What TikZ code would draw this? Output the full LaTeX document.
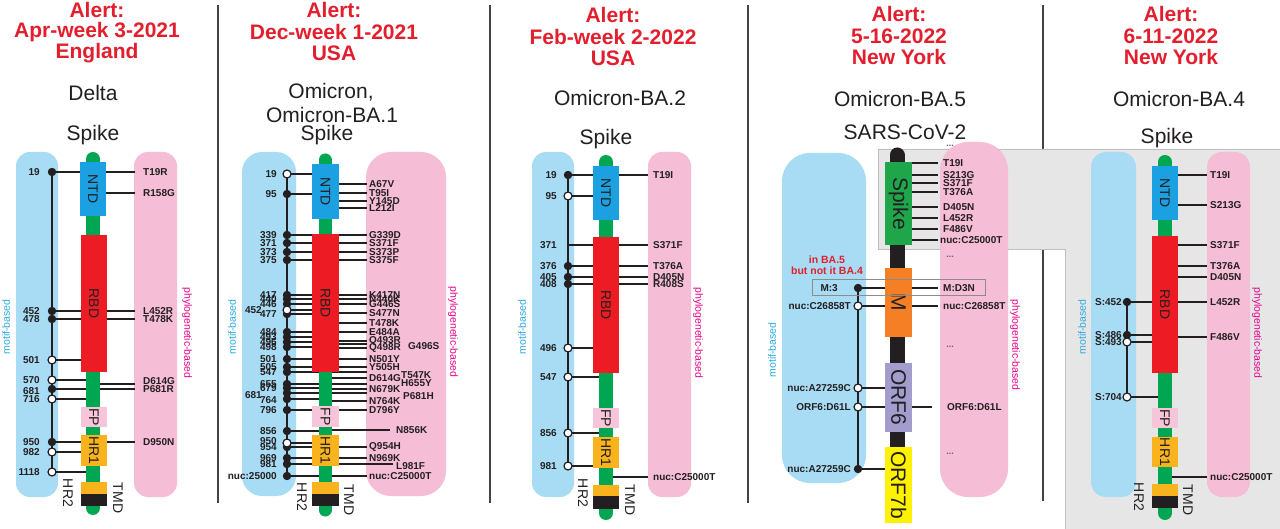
\documentclass[tikz,border=0pt]{standalone}
\usepackage{fontspec}
\setmainfont{Liberation Sans}
\definecolor{ink}{HTML}{231F20}
\definecolor{capblue}{HTML}{A8DCF5}
\definecolor{cappink}{HTML}{F6BED6}
\definecolor{bbgreen}{HTML}{00A651}
\definecolor{ntdc}{HTML}{1BA1E2}
\definecolor{rbdc}{HTML}{ED1C24}
\definecolor{fpc}{HTML}{F6C5D9}
\definecolor{hrc}{HTML}{F9B31C}
\definecolor{alertred}{HTML}{E31E2D}
\definecolor{motifc}{HTML}{29ABE2}
\definecolor{phyloc}{HTML}{EC008C}
\definecolor{mc}{HTML}{F47F24}
\definecolor{orfsix}{HTML}{A39DCD}
\definecolor{orfseven}{HTML}{FFF200}
\definecolor{spikec}{HTML}{1FA64B}
\definecolor{grayband}{HTML}{E6E6E6}
\pgfdeclarelayer{div}
\pgfdeclarelayer{gray}
\pgfdeclarelayer{cap}
\pgfdeclarelayer{lines}
\pgfdeclarelayer{bone}
\pgfsetlayers{div,gray,cap,lines,bone,main}
\def\labsize{10}
\tikzset{
 conn/.style={draw=ink, line width=1.3},
 vline/.style={draw=ink, line width=1.5},
 dotf/.style={circle, fill=ink, draw=ink, line width=0.8, inner sep=0, minimum size=7.5},
 doto/.style={circle, fill=white, draw=ink, line width=1.2, inner sep=0, minimum size=8},
 nodot/.style={coordinate},
 num/.style={inner sep=0, text=ink, font=\bfseries\fontsize{\labsize}{\labsize}\selectfont},
 mut/.style={inner sep=0, text=ink, font=\bfseries\fontsize{\labsize}{\labsize}\selectfont},
 dom/.style={rotate=-90, inner sep=0, text=ink, font=\fontsize{14}{14}\selectfont},
 bigdom/.style={rotate=-90, inner sep=0, text=ink, font=\fontsize{21}{21}\selectfont},
 hdr/.style={text=alertred, font=\bfseries\fontsize{21}{21}\selectfont, inner sep=0},
 sub/.style={text=ink, font=\fontsize{21}{21}\selectfont, inner sep=0},
 motif/.style={rotate=90, text=motifc, font=\fontsize{10.5}{10.5}\selectfont, inner sep=0},
 phylo/.style={rotate=-90, text=phyloc, font=\fontsize{10.5}{10.5}\selectfont, inner sep=0},
 redtxt/.style={text=alertred, font=\bfseries\fontsize{10.5}{10.5}\selectfont, inner sep=0},
 dotsl/.style={text=ink!70, font=\bfseries\fontsize{9}{9}\selectfont, inner sep=0},
 bonestyle/.style={line width=14, line cap=round},
 divider/.style={draw=ink!85, line width=1.5},
}
% left mutation: name, y, label, dot style
\newcommand\leftmut[4]{%
 \coordinate (#1b) at (\BX,#2);
 \node[#4] (#1d) at (\VX,#2) {};
 \begin{pgfonlayer}{lines}\draw[conn] (#1d.center) -- (#1b);\end{pgfonlayer}
 \node[num, anchor=east] (#1l) at (\LX,#2) {#3};}
% left mutation with label position: name, y, label, style, lx, ly
\newcommand\leftmutat[6]{%
 \coordinate (#1b) at (\BX,#2);
 \node[#4] (#1d) at (\VX,#2) {};
 \begin{pgfonlayer}{lines}\draw[conn] (#1d.center) -- (#1b);\end{pgfonlayer}
 \node[num, anchor=east] (#1l) at (#5,#6) {#3};}
% right mutation: name, y, text
\newcommand\rightmut[3]{%
 \coordinate (#1b) at (\BX,#2);
 \coordinate (#1e) at (\RX,#2);
 \node[mut, anchor=west] (#1l) at (\TX,#2) {#3};
 \begin{pgfonlayer}{lines}\draw[conn] (#1b) -- (#1e);\end{pgfonlayer}}
% right mutation custom: name, y, line end x, text x, text y, text
\newcommand\rightmutat[6]{%
 \coordinate (#1b) at (\BX,#2);
 \coordinate (#1e) at (#3,#2);
 \node[mut, anchor=west] (#1l) at (#4,#5) {#6};
 \begin{pgfonlayer}{lines}\draw[conn] (#1b) -- (#1e);\end{pgfonlayer}}
\begin{document}
\begin{tikzpicture}[x=1pt,y=-1pt]
\useasboundingbox (0,0) rectangle (1280,529);
% dividers
\begin{pgfonlayer}{div}
\fill[white] (0,0) rectangle (1280,529);
\draw[divider] (218,5) -- (218,503);
\draw[divider] (490,5) -- (490,503);
\draw[divider] (748,5) -- (748,503);
\draw[divider] (1043,5) -- (1043,501);
\end{pgfonlayer}
\begin{pgfonlayer}{gray}
\filldraw[fill=grayband, draw=black!25, line width=0.8] (878,149) -- (1280,149) -- (1280,529) -- (1065,529) -- (1065,249) -- (878,249) -- cycle;
\end{pgfonlayer}

%%%%%%%%%%%%%%%% Panel 1
\node[hdr] (h1a) at (97,10) {Alert:};
\node[hdr] (h1b) at (97,32) {Apr-week 3-2021};
\node[hdr] (h1c) at (97,53) {England};
\node[sub] (h1d) at (93,93) {Delta};
\node[sub] (h1e) at (93,135) {Spike};
\begin{pgfonlayer}{cap}
\fill[capblue, rounded corners=14] (16,152) rectangle (58,497);
\fill[cappink, rounded corners=14] (134,152) rectangle (177,497);
\end{pgfonlayer}
\begin{pgfonlayer}{bone}
\draw[bonestyle, bbgreen] (93,159) -- (93,508);
\end{pgfonlayer}
\node[dom, fill=ntdc, minimum width=54, minimum height=26] (antd) at (93,189) {NTD};
\node[dom, fill=rbdc, minimum width=137, minimum height=26] (arbd) at (94,303.5) {RBD};
\node[dom, fill=fpc, minimum width=20, minimum height=26] (afp) at (94,417) {FP};
\node[dom, fill=hrc, minimum width=31, minimum height=26] (ahr1) at (94,450.5) {HR1};
\node[dom, fill=hrc, minimum width=12, minimum height=26] (ahr2) at (94,488) {};
\node[dom, fill=ink, minimum width=12, minimum height=26] (atmd) at (94,500) {};
\node[dom] (ahr2l) at (68,493) {HR2};
\node[dom] (atmdl) at (118,498) {TMD};
\node[motif] (amot) at (6,327) {motif-based};
\node[phylo] (aphy) at (187,333) {phylogenetic-based};
\def\VX{52}\def\BX{93}\def\LX{40}\def\RX{135}\def\TX{143}
\leftmut{a19}{172}{19}{dotf}
\leftmut{a452}{311}{452}{dotf}
\leftmut{a478}{319}{478}{dotf}
\leftmut{a501}{360}{501}{doto}
\leftmut{a570}{380}{570}{doto}
\leftmutat{a681}{389}{681}{dotf}{40}{391}
\leftmut{a716}{399}{716}{doto}
\leftmut{a950}{442}{950}{dotf}
\leftmut{a982}{452}{982}{doto}
\leftmut{a1118}{472}{1118}{doto}
\begin{pgfonlayer}{lines}\draw[vline] (a19d.center) -- (a1118d.center);\end{pgfonlayer}
\rightmut{aT19R}{172}{T19R}
\rightmut{aR158G}{193}{R158G}
\rightmut{aL452R}{311}{L452R}
\rightmut{aT478K}{319}{T478K}
\rightmutat{aD614G}{384}{135}{143}{381}{D614G}
\rightmut{aP681R}{389}{P681R}
\rightmut{aD950N}{442}{D950N}

%%%%%%%%%%%%%%%% Panel 2
\node[hdr] (h2a) at (334,10) {Alert:};
\node[hdr] (h2b) at (334,32) {Dec-week 1-2021};
\node[hdr] (h2c) at (334,53) {USA};
\node[sub] (h2d) at (331,92) {Omicron,};
\node[sub] (h2e) at (332,115) {Omicron-BA.1};
\node[sub] (h2f) at (327,135) {Spike};
\begin{pgfonlayer}{cap}
\fill[capblue, rounded corners=20] (242,152) rectangle (296,496);
\fill[cappink, rounded corners=25] (366,152) rectangle (446,496);
\end{pgfonlayer}
\begin{pgfonlayer}{bone}
\draw[bonestyle, bbgreen, line width=13] (325,160) -- (325,510);
\end{pgfonlayer}
\node[dom, fill=ntdc, minimum width=55, minimum height=27] (bntd) at (325.5,191.5) {NTD};
\node[dom, fill=rbdc, minimum width=138, minimum height=27] (brbd) at (325.5,303) {RBD};
\node[dom, fill=fpc, minimum width=21, minimum height=27] (bfp) at (325.5,416.5) {FP};
\node[dom, fill=hrc, minimum width=31, minimum height=27] (bhr1) at (325.5,450.5) {HR1};
\node[dom, fill=hrc, minimum width=12, minimum height=27] (bhr2) at (325.5,488) {};
\node[dom, fill=ink, minimum width=12, minimum height=27] (btmd) at (325.5,500) {};
\node[dom] (bhr2l) at (302,497) {HR2};
\node[dom] (btmdl) at (349,500) {TMD};
\node[motif] (bmot) at (232,327) {motif-based};
\node[phylo] (bphy) at (453,332) {phylogenetic-based};
\def\VX{287}\def\BX{325}\def\LX{277}\def\RX{367}\def\TX{369}
\leftmut{b19}{174}{19}{doto}
\leftmut{b95}{194}{95}{dotf}
\leftmut{b339}{235}{339}{dotf}
\leftmut{b371}{243}{371}{dotf}
\leftmut{b373}{252}{373}{dotf}
\leftmut{b375}{260}{375}{dotf}
\leftmut{b417}{295}{417}{dotf}
\leftmut{b440}{299}{440}{dotf}
\leftmut{b446}{304}{446}{dotf}
\leftmut{b477}{314}{477}{dotf}
\leftmutat{b452}{310}{452}{doto}{262}{310}
\leftmut{b484}{332}{484}{dotf}
\leftmut{b493}{337}{493}{dotf}
\leftmut{b496}{342}{496}{dotf}
\leftmut{b498}{347}{498}{dotf}
\leftmut{b501}{359}{501}{dotf}
\leftmut{b505}{367}{505}{dotf}
\leftmut{b547}{372}{547}{dotf}
\leftmut{b655}{384}{655}{dotf}
\leftmut{b679}{388}{679}{dotf}
\leftmutat{b681}{393}{681}{dotf}{262}{395}
\leftmutat{b764}{399}{764}{dotf}{277}{400}
\leftmut{b796}{410}{796}{dotf}
\leftmut{b856}{431}{856}{dotf}
\leftmut{b954}{447}{954}{dotf}
\leftmutat{b950}{443}{950}{doto}{277}{441}
\leftmut{b969}{458}{969}{dotf}
\leftmut{b981}{464}{981}{dotf}
\leftmut{bnuc}{476}{nuc:25000}{dotf}
\begin{pgfonlayer}{lines}\draw[vline] (b19d.center) -- (bnucd.center);\end{pgfonlayer}
\rightmut{bA67V}{184}{A67V}
\rightmut{bT95I}{193}{T95I}
\rightmut{bY145D}{201}{Y145D}
\rightmut{bL212I}{208}{L212I}
\rightmut{bG339D}{235}{G339D}
\rightmut{bS371F}{243}{S371F}
\rightmut{bS373P}{252}{S373P}
\rightmut{bS375F}{260}{S375F}
\rightmut{bK417N}{295}{K417N}
\rightmut{bN440K}{299}{N440K}
\rightmut{bG446S}{304}{G446S}
\rightmut{bS477N}{313}{S477N}
\rightmut{bT478K}{323}{T478K}
\rightmut{bE484A}{332}{E484A}
\rightmut{bQ493R}{341}{Q493R}
\rightmutat{bG496S}{344}{367}{408}{346}{G496S}
\rightmut{bQ498R}{348}{Q498R}
\rightmut{bN501Y}{359}{N501Y}
\rightmut{bY505H}{367}{Y505H}
\rightmutat{bT547K}{372}{367}{401}{375}{T547K}
\rightmut{bD614G}{378}{D614G}
\rightmutat{bH655Y}{384}{367}{401}{383}{H655Y}
\rightmut{bN679K}{389}{N679K}
\rightmutat{bP681H}{393}{367}{403}{396}{P681H}
\rightmut{bN764K}{401}{N764K}
\rightmut{bD796Y}{410}{D796Y}
\rightmutat{bN856K}{430}{390}{396}{430}{N856K}
\rightmut{bQ954H}{447}{Q954H}
\rightmut{bN969K}{458}{N969K}
\rightmutat{bL981F}{464}{393}{396}{466}{L981F}
\rightmut{bnucR}{476}{nuc:C25000T}

%%%%%%%%%%%%%%%% Panel 3
\node[hdr] (h3a) at (613,15) {Alert:};
\node[hdr] (h3b) at (613,37) {Feb-week 2-2022};
\node[hdr] (h3c) at (613,58) {USA};
\node[sub] (h3d) at (620,98) {Omicron-BA.2};
\node[sub] (h3e) at (606,139) {Spike};
\begin{pgfonlayer}{cap}
\fill[capblue, rounded corners=14] (532,152) rectangle (574,497);
\fill[cappink, rounded corners=14] (648,152) rectangle (691,497);
\end{pgfonlayer}
\begin{pgfonlayer}{bone}
\draw[bonestyle, bbgreen] (606,162) -- (606,513);
\end{pgfonlayer}
\node[dom, fill=ntdc, minimum width=54, minimum height=26] (cntd) at (606,193) {NTD};
\node[dom, fill=rbdc, minimum width=136, minimum height=26] (crbd) at (606,305) {RBD};
\node[dom, fill=fpc, minimum width=20, minimum height=26] (cfp) at (606,418) {FP};
\node[dom, fill=hrc, minimum width=31, minimum height=26] (chr1) at (606,452.5) {HR1};
\node[dom, fill=hrc, minimum width=11, minimum height=26] (chr2) at (606,490.5) {};
\node[dom, fill=ink, minimum width=13, minimum height=26] (ctmd) at (606,502.5) {};
\node[dom] (chr2l) at (583,493) {HR2};
\node[dom] (ctmdl) at (630,500) {TMD};
\node[motif] (cmot) at (522,327) {motif-based};
\node[phylo] (cphy) at (698,333) {phylogenetic-based};
\def\VX{568}\def\BX{606}\def\LX{557}\def\RX{648}\def\TX{653}
\leftmut{c19}{175}{19}{dotf}
\leftmut{c95}{196}{95}{doto}
\leftmut{c371}{245}{371}{nodot}
\leftmut{c376}{266}{376}{dotf}
\leftmut{c405}{277}{405}{dotf}
\leftmut{c408}{284}{408}{dotf}
\leftmut{c496}{348}{496}{doto}
\leftmut{c547}{377}{547}{doto}
\leftmut{c856}{433}{856}{doto}
\leftmut{c981}{466}{981}{doto}
\begin{pgfonlayer}{lines}\draw[vline] (c19d.center) -- (c981d.center);\end{pgfonlayer}
\rightmut{cT19I}{175}{T19I}
\rightmut{cS371F}{245}{S371F}
\rightmut{cT376A}{266}{T376A}
\rightmut{cD405N}{277}{D405N}
\rightmut{cR408S}{284}{R408S}
\rightmut{cnucR}{477}{nuc:C25000T}

%%%%%%%%%%%%%%%% Panel 4
\node[hdr] (h4a) at (899,14) {Alert:};
\node[hdr] (h4b) at (899,36) {5-16-2022};
\node[hdr] (h4c) at (899,57) {New York};
\node[sub] (h4d) at (900,99) {Omicron-BA.5};
\node[sub] (h4e) at (905,132) {SARS-CoV-2};
\begin{pgfonlayer}{cap}
\fill[capblue, rounded corners=28] (782,153) rectangle (866,483);
\fill[cappink, rounded corners=28] (940,142) rectangle (1008,497);
\end{pgfonlayer}
\begin{pgfonlayer}{bone}
\draw[bonestyle, ink, line width=15] (897,155) -- (897,515);
\end{pgfonlayer}
\node[bigdom, fill=spikec, minimum width=83, minimum height=27] (dspike) at (898.5,203.5) {Spike};
\node[bigdom, fill=mc, minimum width=69, minimum height=27] (dm) at (898.5,302.5) {M};
\node[bigdom, fill=orfsix, minimum width=69, minimum height=27] (dorf6) at (898.5,397.5) {ORF6};
\node[bigdom, fill=orfseven, minimum width=76, minimum height=27] (dorf7) at (898.5,485) {ORF7b};
\node[motif] (dmot) at (772,350) {motif-based};
\node[phylo] (dphy) at (1015,345) {phylogenetic-based};
\node[redtxt] (dred1) at (827,260) {in BA.5};
\node[redtxt] (dred2) at (827,271) {but not it BA.4};
\node[draw=black!45, line width=0.7, minimum width=173, minimum height=16, inner sep=0] (dbox) at (898.5,287) {};
\def\VX{858}\def\BX{897}\def\LX{851}\def\RX{938}\def\TX{943}
\leftmutat{dM3}{288}{M:3}{dotf}{838}{288}
\leftmut{dC26858}{306}{nuc:C26858T}{doto}
\leftmut{dA27259a}{388}{nuc:A27259C}{doto}
\leftmut{dORF6}{407}{ORF6:D61L}{doto}
\leftmut{dA27259b}{469}{nuc:A27259C}{dotf}
\begin{pgfonlayer}{lines}\draw[vline] (dM3d.center) -- (dA27259bd.center);\end{pgfonlayer}
\rightmut{dT19I}{163}{T19I}
\rightmut{dS213G}{175}{S213G}
\rightmut{dS371F}{183}{S371F}
\rightmut{dT376A}{192}{T376A}
\rightmut{dD405N}{207}{D405N}
\rightmut{dL452R}{218}{L452R}
\rightmut{dF486V}{229}{F486V}
\rightmutat{dnucR}{240}{938}{940}{240}{nuc:C25000T}
\rightmut{dMD3N}{288}{M:D3N}
\rightmut{dC26858R}{306}{nuc:C26858T}
\rightmutat{dORF6R}{407}{932}{947}{407}{ORF6:D61L}
\node[dotsl] (dd1) at (950,146) {...};
\node[dotsl] (dd2) at (950,257) {...};
\node[dotsl] (dd3) at (950,347) {...};
\node[dotsl] (dd4) at (950,454) {...};

%%%%%%%%%%%%%%%% Panel 5
\node[hdr] (h5a) at (1171,14) {Alert:};
\node[hdr] (h5b) at (1171,36) {6-11-2022};
\node[hdr] (h5c) at (1171,57) {New York};
\node[sub] (h5d) at (1179,99) {Omicron-BA.4};
\node[sub] (h5e) at (1167,138) {Spike};
\begin{pgfonlayer}{cap}
\fill[capblue, rounded corners=15] (1091,152) rectangle (1136,497);
\fill[cappink, rounded corners=15] (1207,152) rectangle (1250,497);
\end{pgfonlayer}
\begin{pgfonlayer}{bone}
\draw[bonestyle, bbgreen] (1165,162) -- (1165,513);
\end{pgfonlayer}
\node[dom, fill=ntdc, minimum width=54, minimum height=26] (entd) at (1165,193) {NTD};
\node[dom, fill=rbdc, minimum width=137, minimum height=26] (erbd) at (1165,304.5) {RBD};
\node[dom, fill=fpc, minimum width=20, minimum height=26] (efp) at (1165,418) {FP};
\node[dom, fill=hrc, minimum width=30, minimum height=26] (ehr1) at (1165,452) {HR1};
\node[dom, fill=hrc, minimum width=12, minimum height=26] (ehr2) at (1165,490) {};
\node[dom, fill=ink, minimum width=12, minimum height=26] (etmd) at (1165,502) {};
\node[dom] (ehr2l) at (1139,497) {HR2};
\node[dom] (etmdl) at (1188,500) {TMD};
\node[motif] (emot) at (1082,327) {motif-based};
\node[phylo] (ephy) at (1257,333) {phylogenetic-based};
\def\VX{1127}\def\BX{1165}\def\LX{1122}\def\RX{1207}\def\TX{1210}
\leftmut{e452}{302}{S:452}{dotf}
\leftmut{e486}{335}{S:486}{dotf}
\leftmut{e493}{342}{S:493}{doto}
\leftmut{e704}{397}{S:704}{doto}
\begin{pgfonlayer}{lines}\draw[vline] (e452d.center) -- (e704d.center);\end{pgfonlayer}
\rightmut{eT19I}{175}{T19I}
\rightmut{eS213G}{205}{S213G}
\rightmut{eS371F}{245}{S371F}
\rightmut{eT376A}{266}{T376A}
\rightmut{eD405N}{277}{D405N}
\rightmut{eL452R}{302}{L452R}
\rightmut{eF486V}{337}{F486V}
\rightmut{enucR}{477}{nuc:C25000T}
\end{tikzpicture}
\end{document}
